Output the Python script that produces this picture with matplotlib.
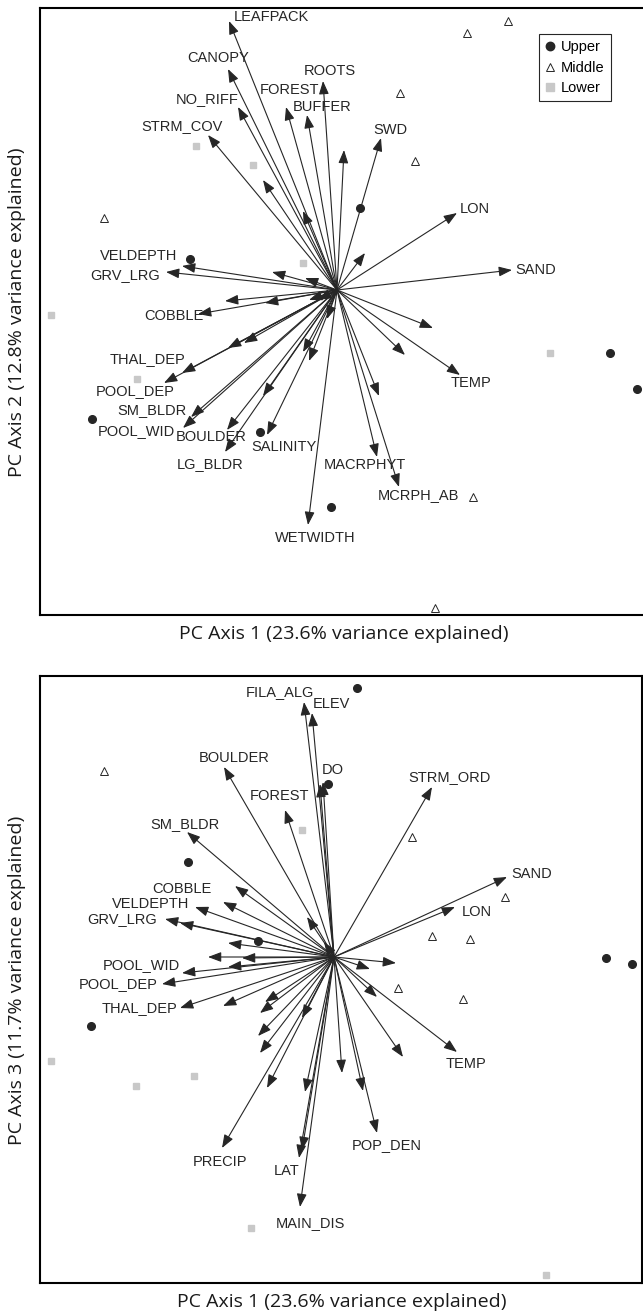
import matplotlib
matplotlib.use("Agg")
import matplotlib.pyplot as plt

# ---- panel 1: PC1 vs PC2 -------------------------------------------------
p1_vars = ["LEAFPACK", "CANOPY", "NO_RIFF", "STRM_COV", "FOREST", "BUFFER", "ROOTS",
           "SWD", "LON", "SAND", "TEMP", "MACRPHYT", "MCRPH_AB", "WETWIDTH",
           "SALINITY", "LG_BLDR", "BOULDER", "POOL_WID", "SM_BLDR", "POOL_DEP",
           "THAL_DEP", "COBBLE", "GRV_LRG", "VELDEPTH"]
p1_x = [-1.08, -1.09, -0.99, -1.29, -0.51, -0.30, -0.14, 0.44, 1.20, 1.75, 1.23, 0.40,
        0.62, -0.29, -0.70, -1.12, -1.10, -1.54, -1.46, -1.73, -1.55, -1.39, -1.71, -1.55]
p1_y = [2.69, 2.21, 1.83, 1.55, 1.83, 1.75, 2.09, 1.52, 0.77, 0.20, -0.85, -1.67,
        -1.97, -2.35, -1.45, -1.62, -1.40, -1.38, -1.27, -0.93, -0.83, -0.24, 0.18, 0.24]
p1_lab_x = [-0.66, -1.19, -1.30, -1.55, -0.48, -0.15, -0.07, 0.53, 1.38, 1.99, 1.34, 0.28,
            0.81, -0.22, -0.53, -1.27, -1.26, -2.01, -1.85, -2.02, -1.90, -1.63, -2.12, -1.98]
p1_lab_y = [2.73, 2.32, 1.91, 1.64, 2.00, 1.83, 2.19, 1.60, 0.81, 0.20, -0.93, -1.75,
            -2.05, -2.48, -1.57, -1.74, -1.47, -1.41, -1.20, -1.01, -0.69, -0.26, 0.15, 0.34]
# loadings without a printed name
p1_other_x = [0.07, -0.74, -0.34, 0.28, -0.65, -0.32, -1.12, -0.72, -0.28, -0.19, -0.10,
              -1.09, -0.93, -0.34, -0.28, -0.74, 0.96, 0.68, 0.42]
p1_other_y = [1.40, 1.10, 0.79, 0.37, 0.18, 0.12, -0.11, -0.13, -0.10, -0.10, -0.29,
              -0.58, -0.53, -0.62, -0.71, -1.06, -0.38, -0.65, -1.06]

p1_upper_x = [-1.47, 0.23, -2.45, -0.77, -0.06, 2.73, 3.00]
p1_upper_y = [0.31, 0.82, -1.29, -1.42, -2.17, -0.63, -0.99]
p1_middle_x = [1.30, 1.71, 0.63, 0.78, -2.33, 1.36, 0.98]
p1_middle_y = [2.57, 2.69, 1.97, 1.29, 0.72, -2.07, -3.18]
p1_lower_x = [-1.41, -0.84, -0.34, -2.86, -2.00, 2.13]
p1_lower_y = [1.44, 1.25, 0.27, -0.25, -0.89, -0.63]

# ---- panel 2: PC1 vs PC3 -------------------------------------------------
p2_vars = ["FILA_ALG", "ELEV", "BOULDER", "DO", "FOREST", "SM_BLDR", "STRM_ORD", "SAND",
           "LON", "COBBLE", "VELDEPTH", "GRV_LRG", "POOL_WID", "POOL_DEP", "THAL_DEP",
           "TEMP", "POP_DEN", "MAIN_DIS", "LAT", "PRECIP"]
p2_x = [-0.30, -0.22, -1.10, -0.11, -0.49, -1.47, 0.98, 1.73, 1.21, -1.11, -1.39, -1.69,
        -1.52, -1.72, -1.54, 1.23, 0.43, -0.34, -0.35, -1.12]
p2_y = [2.55, 2.44, 1.90, 1.75, 1.47, 1.25, 1.70, 0.80, 0.50, 0.55, 0.50, 0.38,
        -0.16, -0.27, -0.51, -0.95, -1.76, -2.50, -2.01, -1.91]
p2_lab_x = [-0.54, -0.03, -1.00, -0.01, -0.54, -1.49, 1.16, 1.98, 1.43, -1.52, -1.83, -2.12,
            -1.93, -2.16, -1.94, 1.32, 0.53, -0.24, -0.47, -1.14]
p2_lab_y = [2.65, 2.53, 1.99, 1.87, 1.61, 1.33, 1.80, 0.83, 0.45, 0.68, 0.53, 0.38,
            -0.08, -0.27, -0.51, -1.07, -1.88, -2.66, -2.14, -2.05]
p2_other_x = [-0.14, -0.99, -1.54, -1.06, -1.26, -0.92, -1.06, -0.27, -0.10, -1.11, -0.69,
              -0.74, -0.76, -0.74, -0.32, -0.67, -0.29, -0.32, 0.08, 0.29, 0.36, 0.62,
              0.43, 0.69]
p2_other_y = [1.73, 0.71, 0.34, 0.14, 0.00, -0.01, -0.10, 0.40, 0.15, -0.49, -0.45,
              -0.56, -0.79, -0.96, -0.61, -1.31, -1.35, -1.93, -1.16, -1.34, -0.12, -0.06,
              -0.40, -1.00]

p2_upper_x = [0.23, -0.06, -1.46, -0.76, -2.43, 2.72, 2.98]
p2_upper_y = [2.69, 1.73, 0.95, 0.16, -0.69, -0.01, -0.07]
p2_middle_x = [-2.30, 0.78, 1.71, 0.98, 1.36, 0.64, 1.29]
p2_middle_y = [1.86, 1.20, 0.60, 0.21, 0.18, -0.31, -0.42]
p2_lower_x = [-0.32, -2.83, -1.98, -1.40, -0.83, 2.12]
p2_lower_y = [1.27, -1.04, -1.29, -1.19, -2.71, -3.18]

W, H = 643, 1313
ARROW = dict(arrowstyle="-|>,head_length=0.8,head_width=0.3", color="#262626",
             lw=0.8, shrinkA=0, shrinkB=0, mutation_scale=10)


def draw_panel(ax, vx, vy, names, lx, ly, ox, oy, groups):
    for x, y in zip(vx + ox, vy + oy):
        ax.annotate("", xy=(x, y), xytext=(0, 0), arrowprops=ARROW, zorder=2)
    for name, x, y in zip(names, lx, ly):
        ax.text(x, y, name, ha="center", va="center", fontsize=10.5,
                family="Liberation Sans", color="#262626", zorder=4)
    (ux, uy), (mx, my), (gx, gy) = groups
    ax.plot(ux, uy, "o", color="#262626", ms=5.5, ls="none", label="Upper", zorder=3)
    ax.plot(mx, my, "^", mfc="white", mec="#262626", mew=0.7, ms=5.5, ls="none",
            label="Middle", zorder=3)
    ax.plot(gx, gy, "s", color="#c8c8c8", ms=5, ls="none", label="Lower", zorder=3)
    ax.set_xticks([])
    ax.set_yticks([])
    for s in ax.spines.values():
        s.set_linewidth(1.5)


fig = plt.figure(figsize=(W / 100, H / 100), dpi=100)

ax1 = fig.add_axes([40 / W, 1 - 615 / H, 608 / W, 607 / H])
draw_panel(ax1, p1_x, p1_y, p1_vars, p1_lab_x, p1_lab_y, p1_other_x, p1_other_y,
           [(p1_upper_x, p1_upper_y), (p1_middle_x, p1_middle_y), (p1_lower_x, p1_lower_y)])
ax1.set_xlim(-2.97, 3.11)
ax1.set_ylim(-3.25, 2.82)
leg = ax1.legend(loc="upper right", bbox_to_anchor=((618 - 40) / 608, 1 - 19 / 607),
                 fancybox=False, edgecolor="#262626", framealpha=1, handlelength=0.7,
                 handletextpad=0.4, labelspacing=0.45, borderpad=0.4, markerscale=1.1,
                 prop={"family": "Liberation Sans", "size": 10.5})
leg.get_frame().set_linewidth(0.8)

ax2 = fig.add_axes([40 / W, 1 - 1283 / H, 602 / W, 607 / H])
draw_panel(ax2, p2_x, p2_y, p2_vars, p2_lab_x, p2_lab_y, p2_other_x, p2_other_y,
           [(p2_upper_x, p2_upper_y), (p2_middle_x, p2_middle_y), (p2_lower_x, p2_lower_y)])
ax2.set_xlim(-2.94, 3.08)
ax2.set_ylim(-3.26, 2.81)

lab = dict(family="Open Sans", fontsize=14, color="#1a1a1a", ha="center", va="center")
fig.text(344 / W, 1 - 634 / H, "PC Axis 1 (23.6% variance explained)", **lab)
fig.text(17 / W, 1 - 312 / H, "PC Axis 2 (12.8% variance explained)", rotation=90, **lab)
fig.text(342 / W, 1 - 1302 / H, "PC Axis 1 (23.6% variance explained)", **lab)
fig.text(17 / W, 1 - 980 / H, "PC Axis 3 (11.7% variance explained)", rotation=90, **lab)

fig.savefig("out.png", dpi=100)
